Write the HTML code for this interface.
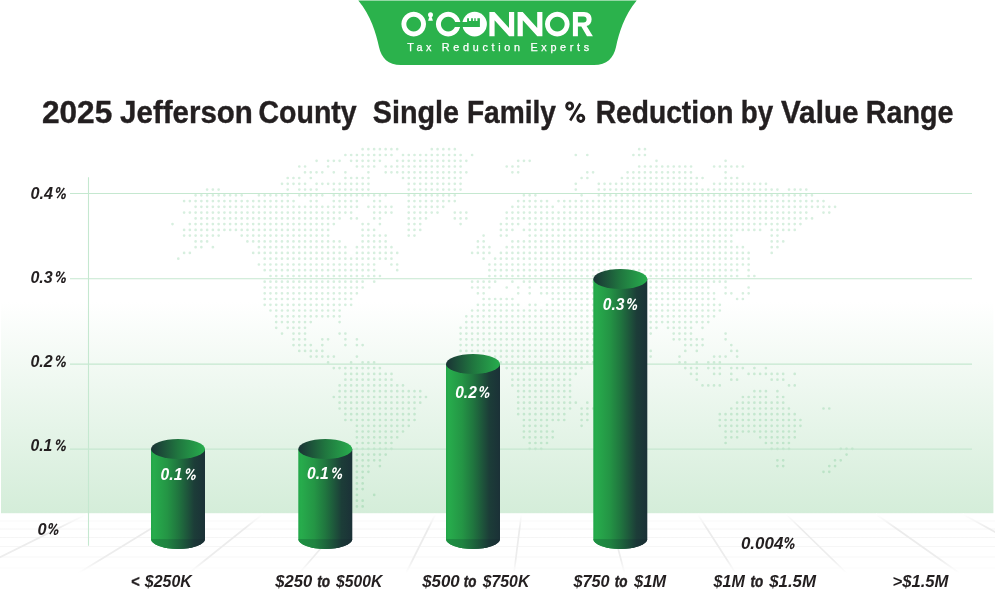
<!DOCTYPE html>
<html><head><meta charset="utf-8">
<style>
html,body{margin:0;padding:0;background:#fff;}
body{width:995px;height:612px;overflow:hidden;font-family:"Liberation Sans",sans-serif;}
svg{display:block;will-change:transform;}
text{font-family:"Liberation Sans",sans-serif;font-weight:bold;}
.ti{font-size:31px;fill:#231f20;stroke:#231f20;stroke-width:0.4px;}
.lab{font-style:italic;font-size:17px;fill:#231f20;}
.val{font-style:italic;font-size:17px;fill:#fff;}
</style></head><body>
<svg width="995" height="612" viewBox="0 0 995 612">
<defs>
<linearGradient id="bg" x1="0" y1="0" x2="0" y2="1">
<stop offset="0" stop-color="#ffffff"/>
<stop offset="1" stop-color="#d4edd9"/>
</linearGradient>
<linearGradient id="body" x1="0" y1="0" x2="1" y2="0">
<stop offset="0" stop-color="#22a649"/>
<stop offset="0.05" stop-color="#27ac4c"/>
<stop offset="0.3" stop-color="#249545"/>
<stop offset="0.5" stop-color="#20763f"/>
<stop offset="0.8" stop-color="#1c3d38"/>
<stop offset="1" stop-color="#1b3137"/>
</linearGradient>
<linearGradient id="base" x1="0" y1="0" x2="1" y2="0">
<stop offset="0" stop-color="#1e9142"/>
<stop offset="0.3" stop-color="#1f8340"/>
<stop offset="0.5" stop-color="#1d673c"/>
<stop offset="0.8" stop-color="#1a3736"/>
<stop offset="1" stop-color="#192d33"/>
</linearGradient>
<linearGradient id="top" x1="0" y1="0" x2="1" y2="0">
<stop offset="0" stop-color="#1a3335"/>
<stop offset="0.5" stop-color="#20763f"/>
<stop offset="1" stop-color="#27ad4d"/>
</linearGradient>
<linearGradient id="fl" gradientUnits="userSpaceOnUse" x1="0" y1="513" x2="0" y2="575">
<stop offset="0.03" stop-color="#ffffff"/>
<stop offset="0.25" stop-color="#ebebeb"/>
<stop offset="0.75" stop-color="#ededed"/>
<stop offset="0.97" stop-color="#ffffff"/>
</linearGradient>
<linearGradient id="fh" gradientUnits="userSpaceOnUse" x1="0" y1="513" x2="0" y2="575">
<stop offset="0" stop-color="#fcfcfc"/>
<stop offset="0.3" stop-color="#f5f5f5"/>
<stop offset="0.8" stop-color="#f7f7f7"/>
<stop offset="1" stop-color="#ffffff"/>
</linearGradient>
</defs>
<rect width="995" height="612" fill="#fff"/>
<rect x="1" y="302" width="992.4" height="211.2" fill="url(#bg)"/>
<path id="map" fill="none" stroke="rgba(55,175,95,0.2)" stroke-width="2.7" stroke-linecap="round" stroke-dasharray="0 5.761" d="M362.6 149.2h34.59M431.8 149.2h23.06M639.2 149.2h5.78M345.4 155.0h46.11M403.0 155.0h57.63M472.1 155.0h0.02M575.8 155.0h0.02M587.3 155.0h0.02M633.4 155.0h11.54M316.6 160.8h0.02M328.1 160.8h11.54M351.1 160.8h28.82M397.2 160.8h69.15M518.2 160.8h11.54M656.5 160.8h0.02M725.6 160.8h0.02M299.3 166.5h5.78M328.1 166.5h0.02M356.9 166.5h17.30M385.7 166.5h74.91M506.7 166.5h11.54M639.2 166.5h51.87M714.1 166.5h28.82M305.0 172.3h17.30M333.8 172.3h0.02M345.4 172.3h0.02M368.4 172.3h0.02M385.7 172.3h80.67M512.4 172.3h5.78M587.3 172.3h5.78M627.6 172.3h63.39M725.6 172.3h0.02M287.7 178.0h11.54M310.8 178.0h0.02M345.4 178.0h23.06M403.0 178.0h57.63M581.6 178.0h5.78M621.9 178.0h80.67M725.6 178.0h11.54M282.0 183.8h23.06M316.6 183.8h51.87M408.7 183.8h51.87M575.8 183.8h0.02M598.8 183.8h97.96M714.1 183.8h51.87M207.1 189.6h11.54M287.7 189.6h0.02M299.3 189.6h17.30M333.8 189.6h34.59M408.7 189.6h51.87M575.8 189.6h0.02M598.8 189.6h178.61M789.0 189.6h17.30M195.6 195.3h46.11M258.9 195.3h28.82M299.3 195.3h23.06M333.8 195.3h51.87M408.7 195.3h46.11M523.9 195.3h11.54M581.6 195.3h0.02M598.8 195.3h213.18M184.1 201.1h109.48M310.8 201.1h5.78M333.8 201.1h23.06M374.2 201.1h5.78M408.7 201.1h46.11M518.2 201.1h28.82M558.5 201.1h265.03M195.6 206.8h161.33M368.4 206.8h23.06M408.7 206.8h34.59M512.4 206.8h40.35M564.3 206.8h270.79M184.1 212.6h167.09M374.2 212.6h17.30M408.7 212.6h28.82M454.8 212.6h11.54M506.7 212.6h299.59M823.5 212.6h5.78M195.6 218.4h144.05M351.1 218.4h5.78M374.2 218.4h5.78M408.7 218.4h17.30M454.8 218.4h11.54M506.7 218.4h305.35M172.5 224.1h0.02M189.8 224.1h144.05M362.6 224.1h5.78M379.9 224.1h0.02M408.7 224.1h11.54M460.6 224.1h0.02M500.9 224.1h17.30M529.7 224.1h270.79M184.1 229.9h144.05M362.6 229.9h11.54M408.7 229.9h11.54M500.9 229.9h11.54M523.9 229.9h236.22M771.7 229.9h23.06M184.1 235.6h34.59M241.7 235.6h86.44M362.6 235.6h23.06M408.7 235.6h5.78M483.6 235.6h0.02M500.9 235.6h5.78M529.7 235.6h201.66M771.7 235.6h5.78M195.6 241.4h11.54M247.4 241.4h92.20M362.6 241.4h23.06M477.9 241.4h5.78M512.4 241.4h218.94M771.7 241.4h11.54M195.6 247.2h5.78M212.9 247.2h0.02M258.9 247.2h86.44M356.9 247.2h34.59M477.9 247.2h11.54M506.7 247.2h236.22M771.7 247.2h5.78M184.1 252.9h5.78M253.2 252.9h92.20M356.9 252.9h40.35M472.1 252.9h17.30M500.9 252.9h247.74M771.7 252.9h0.02M178.3 258.7h0.02M264.7 258.7h126.76M483.6 258.7h0.02M495.1 258.7h253.50M258.9 264.5h115.24M391.4 264.5h5.78M489.4 264.5h259.26M264.7 270.2h109.48M397.2 270.2h0.02M489.4 270.2h247.74M748.6 270.2h0.02M270.5 276.0h109.48M489.4 276.0h247.74M748.6 276.0h5.78M264.7 281.7h97.96M374.2 281.7h0.02M472.1 281.7h23.06M512.4 281.7h0.02M523.9 281.7h201.66M264.7 287.5h97.96M472.1 287.5h17.30M506.7 287.5h0.02M518.2 287.5h0.02M529.7 287.5h0.02M541.2 287.5h167.09M725.6 287.5h0.02M748.6 287.5h0.02M264.7 293.3h92.20M477.9 293.3h5.78M518.2 293.3h0.02M529.7 293.3h0.02M541.2 293.3h172.85M725.6 293.3h5.78M742.9 293.3h5.78M264.7 299.0h86.44M483.6 299.0h28.82M552.8 299.0h161.33M737.1 299.0h5.78M264.7 304.8h86.44M477.9 304.8h40.35M529.7 304.8h5.78M547.0 304.8h172.85M270.5 310.5h69.15M472.1 310.5h247.74M276.2 316.3h63.39M466.3 316.3h247.74M276.2 322.1h34.59M339.6 322.1h0.02M466.3 322.1h241.98M276.2 327.8h0.02M287.7 327.8h17.30M460.6 327.8h195.89M668.0 327.8h23.06M702.5 327.8h0.02M282.0 333.6h0.02M293.5 333.6h11.54M339.6 333.6h5.78M460.6 333.6h190.13M673.7 333.6h17.30M725.6 333.6h0.02M293.5 339.3h11.54M322.3 339.3h5.78M345.4 339.3h0.02M356.9 339.3h0.02M460.6 339.3h184.37M673.7 339.3h28.82M725.6 339.3h0.02M293.5 345.1h17.30M322.3 345.1h0.02M345.4 345.1h0.02M356.9 345.1h5.78M460.6 345.1h184.37M685.3 345.1h17.30M731.3 345.1h0.02M299.3 350.9h23.06M460.6 350.9h190.13M685.3 350.9h0.02M696.8 350.9h0.02M731.3 350.9h5.78M310.8 356.6h23.06M356.9 356.6h0.02M466.3 356.6h184.37M679.5 356.6h0.02M714.1 356.6h11.54M737.1 356.6h0.02M328.1 362.4h0.02M351.1 362.4h0.02M362.6 362.4h11.54M466.3 362.4h178.61M679.5 362.4h5.78M696.8 362.4h0.02M708.3 362.4h11.54M333.8 368.1h46.11M472.1 368.1h23.06M506.7 368.1h74.91M685.3 368.1h11.54M708.3 368.1h11.54M731.3 368.1h11.54M754.4 368.1h0.02M765.9 368.1h0.02M345.4 373.9h46.11M477.9 373.9h17.30M512.4 373.9h63.39M691.0 373.9h5.78M714.1 373.9h5.78M731.3 373.9h0.02M748.6 373.9h34.59M794.7 373.9h0.02M345.4 379.7h46.11M477.9 379.7h17.30M512.4 379.7h57.63M696.8 379.7h0.02M731.3 379.7h5.78M771.7 379.7h11.54M339.6 385.4h63.39M483.6 385.4h11.54M512.4 385.4h57.63M702.5 385.4h17.30M789.0 385.4h5.78M339.6 391.2h80.67M518.2 391.2h51.87M754.4 391.2h11.54M777.4 391.2h0.02M333.8 397.0h92.20M518.2 397.0h51.87M742.9 397.0h23.06M777.4 397.0h5.78M339.6 402.7h80.67M518.2 402.7h57.63M587.3 402.7h0.02M737.1 402.7h46.11M339.6 408.5h74.91M518.2 408.5h51.87M581.6 408.5h11.54M731.3 408.5h57.63M823.5 408.5h5.78M345.4 414.2h69.15M518.2 414.2h46.11M581.6 414.2h5.78M719.8 414.2h74.91M345.4 420.0h69.15M523.9 420.0h40.35M581.6 420.0h5.78M719.8 420.0h80.67M356.9 425.8h51.87M523.9 425.8h23.06M581.6 425.8h0.02M719.8 425.8h80.67M356.9 431.5h46.11M523.9 431.5h28.82M725.6 431.5h69.15M356.9 437.3h40.35M523.9 437.3h28.82M725.6 437.3h11.54M760.2 437.3h34.59M356.9 443.0h34.59M529.7 443.0h17.30M725.6 443.0h0.02M765.9 443.0h23.06M356.9 448.8h34.59M529.7 448.8h11.54M771.7 448.8h17.30M840.8 448.8h11.54M356.9 454.6h28.82M846.6 454.6h0.02M356.9 460.3h23.06M777.4 460.3h5.78M835.0 460.3h5.78M356.9 466.1h11.54M379.9 466.1h0.02M777.4 466.1h5.78M829.3 466.1h5.78M356.9 471.8h11.54M823.5 471.8h5.78M356.9 477.6h5.78M356.9 483.4h5.78M356.9 489.1h5.78M356.9 494.9h0.02M374.2 494.9h0.02M356.9 500.7h5.78M356.9 506.4h5.78"/>
<path d="M0 521H995M0 529H995M0 537.5H995M0 546.5H995M0 557H995M0 568H995" stroke="url(#fh)" stroke-width="1" fill="none"/>
<path d="M-88.7 514L-255.3 574M-0.8 514L-144.5 574M87.0 514L-33.7 574M174.9 514L77.0 574M262.7 514L187.8 574M350.6 514L298.6 574M435.5 514L405.6 574M521.4 514L513.9 574M609.2 514L624.7 574M697.6 514L736.1 574M785.9 514L847.5 574M875.8 514L960.7 574M962.6 514L1070.3 574M1050.5 514L1181.0 574M1138.3 514L1291.8 574" stroke="url(#fl)" stroke-width="1.7" fill="none"/>
<g stroke="#c5e8d0" stroke-width="1.1" fill="none">
<path d="M70 193.5H972M70 278.7H972M70 364.1H972M70 449.1H972M88.5 177.3V545.8"/>
</g>
<g id="bars">
<g><path d="M151 449V539A27 10 0 0 0 205 539V449Z" fill="url(#body)"/><path d="M151 539A27 10 0 0 0 205 539Z" fill="url(#base)"/><ellipse cx="178" cy="449" rx="27" ry="10" fill="url(#top)"/></g>
<g><path d="M298.3 449V539A27 10 0 0 0 352.3 539V449Z" fill="url(#body)"/><path d="M298.3 539A27 10 0 0 0 352.3 539Z" fill="url(#base)"/><ellipse cx="325.3" cy="449" rx="27" ry="10" fill="url(#top)"/></g>
<g><path d="M446 364V539A27 10 0 0 0 500 539V364Z" fill="url(#body)"/><path d="M446 539A27 10 0 0 0 500 539Z" fill="url(#base)"/><ellipse cx="473" cy="364" rx="27" ry="10" fill="url(#top)"/></g>
<g><path d="M593.3 279V539A27 10 0 0 0 647.3 539V279Z" fill="url(#body)"/><path d="M593.3 539A27 10 0 0 0 647.3 539Z" fill="url(#base)"/><ellipse cx="620.3" cy="279" rx="27" ry="10" fill="url(#top)"/></g>
</g>
<text class="ti" x="41.98" y="122.6" textLength="70.31" lengthAdjust="spacingAndGlyphs">2025</text>
<text class="ti" x="120.12" y="122.6" textLength="132.68" lengthAdjust="spacingAndGlyphs">Jefferson</text>
<text class="ti" x="258.55" y="122.6" textLength="98.09" lengthAdjust="spacingAndGlyphs">County</text>
<text class="ti" x="372.77" y="122.6" textLength="86.27" lengthAdjust="spacingAndGlyphs">Single</text>
<text class="ti" x="466.89" y="122.6" textLength="89.11" lengthAdjust="spacingAndGlyphs">Family</text>
<g fill="none" stroke="#231f20"><ellipse cx="569.65" cy="106.05" rx="3" ry="3.2" stroke-width="2.9"/><ellipse cx="580.8" cy="118.3" rx="3" ry="3.2" stroke-width="2.9"/><path d="M580.4 103.5L570.2 120.5" stroke-width="2.6"/></g>
<text class="ti" x="595.68" y="122.6" textLength="137.87" lengthAdjust="spacingAndGlyphs">Reduction</text>
<text class="ti" x="740.71" y="122.6" textLength="32.36" lengthAdjust="spacingAndGlyphs">by</text>
<text class="ti" x="780.96" y="122.6" textLength="77.60" lengthAdjust="spacingAndGlyphs">Value</text>
<text class="ti" x="865.75" y="122.6" textLength="87.78" lengthAdjust="spacingAndGlyphs">Range</text>
<text class="lab" x="30.38" y="199" textLength="22.59" lengthAdjust="spacingAndGlyphs">0.4</text>
<g fill="none" stroke="#231f20" stroke-width="1.45"><ellipse transform="translate(58.20 190.00) skewX(-12)" rx="1.55" ry="2.2"/><ellipse transform="translate(63.50 196.25) skewX(-12)" rx="1.55" ry="2.2"/><path d="M64.30 188.00L57.20 198.20" stroke-width="1.35"/></g>
<text class="lab" x="30.39" y="282.9" textLength="22.34" lengthAdjust="spacingAndGlyphs">0.3</text>
<g fill="none" stroke="#231f20" stroke-width="1.45"><ellipse transform="translate(58.20 273.90) skewX(-12)" rx="1.55" ry="2.2"/><ellipse transform="translate(63.50 280.15) skewX(-12)" rx="1.55" ry="2.2"/><path d="M64.30 271.90L57.20 282.10" stroke-width="1.35"/></g>
<text class="lab" x="30.39" y="367.1" textLength="22.34" lengthAdjust="spacingAndGlyphs">0.2</text>
<g fill="none" stroke="#231f20" stroke-width="1.45"><ellipse transform="translate(58.20 358.10) skewX(-12)" rx="1.55" ry="2.2"/><ellipse transform="translate(63.50 364.35) skewX(-12)" rx="1.55" ry="2.2"/><path d="M64.30 356.10L57.20 366.30" stroke-width="1.35"/></g>
<text class="lab" x="30.40" y="451.1" textLength="21.92" lengthAdjust="spacingAndGlyphs">0.1</text>
<g fill="none" stroke="#231f20" stroke-width="1.45"><ellipse transform="translate(58.20 442.10) skewX(-12)" rx="1.55" ry="2.2"/><ellipse transform="translate(63.50 448.35) skewX(-12)" rx="1.55" ry="2.2"/><path d="M64.30 440.10L57.20 450.30" stroke-width="1.35"/></g>
<text class="lab" x="37.58" y="534.9" textLength="9.13" lengthAdjust="spacingAndGlyphs">0</text>
<g fill="none" stroke="#231f20" stroke-width="1.45"><ellipse transform="translate(50.80 525.90) skewX(-12)" rx="1.55" ry="2.2"/><ellipse transform="translate(56.10 532.15) skewX(-12)" rx="1.55" ry="2.2"/><path d="M56.90 523.90L49.80 534.10" stroke-width="1.35"/></g>
<text class="lab" x="740.95" y="549" textLength="42.44" lengthAdjust="spacingAndGlyphs">0.004</text>
<g fill="none" stroke="#231f20" stroke-width="1.45"><ellipse transform="translate(786.90 540.00) skewX(-12)" rx="1.55" ry="2.2"/><ellipse transform="translate(792.20 546.25) skewX(-12)" rx="1.55" ry="2.2"/><path d="M793.00 538.00L785.90 548.20" stroke-width="1.35"/></g>
<text class="val" x="160.61" y="480.1" textLength="21.73" lengthAdjust="spacingAndGlyphs">0.1</text>
<g fill="none" stroke="#fff" stroke-width="1.45"><ellipse transform="translate(188.10 471.10) skewX(-12)" rx="1.55" ry="2.2"/><ellipse transform="translate(193.40 477.35) skewX(-12)" rx="1.55" ry="2.2"/><path d="M194.20 469.10L187.10 479.30" stroke-width="1.35"/></g>
<text class="val" x="307.11" y="479.1" textLength="21.67" lengthAdjust="spacingAndGlyphs">0.1</text>
<g fill="none" stroke="#fff" stroke-width="1.45"><ellipse transform="translate(334.50 470.10) skewX(-12)" rx="1.55" ry="2.2"/><ellipse transform="translate(339.80 476.35) skewX(-12)" rx="1.55" ry="2.2"/><path d="M340.60 468.10L333.50 478.30" stroke-width="1.35"/></g>
<text class="val" x="455.22" y="397.9" textLength="21.57" lengthAdjust="spacingAndGlyphs">0.2</text>
<g fill="none" stroke="#fff" stroke-width="1.45"><ellipse transform="translate(481.80 388.90) skewX(-12)" rx="1.55" ry="2.2"/><ellipse transform="translate(487.10 395.15) skewX(-12)" rx="1.55" ry="2.2"/><path d="M487.90 386.90L480.80 397.10" stroke-width="1.35"/></g>
<text class="val" x="602.71" y="309.9" textLength="21.70" lengthAdjust="spacingAndGlyphs">0.3</text>
<g fill="none" stroke="#fff" stroke-width="1.45"><ellipse transform="translate(629.50 300.90) skewX(-12)" rx="1.55" ry="2.2"/><ellipse transform="translate(634.80 307.15) skewX(-12)" rx="1.55" ry="2.2"/><path d="M635.60 298.90L628.50 309.10" stroke-width="1.35"/></g>
<text class="lab" x="130.94" y="587.1" textLength="8.53" lengthAdjust="spacingAndGlyphs" stroke="#231f20" stroke-width="0.31">&lt;</text>
<text class="lab" x="144.80" y="587.1" textLength="46.97" lengthAdjust="spacingAndGlyphs">$250K</text>
<text class="lab" x="275.30" y="587.1" textLength="36.98" lengthAdjust="spacingAndGlyphs">$250</text>
<text class="lab" x="317.20" y="587.1" textLength="12.84" lengthAdjust="spacingAndGlyphs" stroke="#231f20" stroke-width="0.44">to</text>
<text class="lab" x="336.10" y="587.1" textLength="46.18" lengthAdjust="spacingAndGlyphs">$500K</text>
<text class="lab" x="422.20" y="587.1" textLength="37.58" lengthAdjust="spacingAndGlyphs">$500</text>
<text class="lab" x="463.71" y="587.1" textLength="12.62" lengthAdjust="spacingAndGlyphs" stroke="#231f20" stroke-width="0.47">to</text>
<text class="lab" x="482.70" y="587.1" textLength="46.67" lengthAdjust="spacingAndGlyphs">$750K</text>
<text class="lab" x="573.40" y="587.1" textLength="36.17" lengthAdjust="spacingAndGlyphs">$750</text>
<text class="lab" x="614.81" y="587.1" textLength="12.73" lengthAdjust="spacingAndGlyphs" stroke="#231f20" stroke-width="0.46">to</text>
<text class="lab" x="633.90" y="587.1" textLength="32.33" lengthAdjust="spacingAndGlyphs">$1M</text>
<text class="lab" x="713.60" y="587.1" textLength="31.14" lengthAdjust="spacingAndGlyphs">$1M</text>
<text class="lab" x="750.41" y="587.1" textLength="12.73" lengthAdjust="spacingAndGlyphs" stroke="#231f20" stroke-width="0.46">to</text>
<text class="lab" x="769.20" y="587.1" textLength="46.85" lengthAdjust="spacingAndGlyphs">$1.5M</text>
<text class="lab" x="892.42" y="587.1" textLength="56.07" lengthAdjust="spacingAndGlyphs">&gt;$1.5M</text>
<g id="logo">
<path d="M358.3 0.5 C371 16 376 33 379 47 C381.5 58 388 65 401 65 H594 C607 65 613.5 58 616 47 C619 33 624 16 636.7 0.5Z" fill="#2bb24c"/>
<g fill="#fff">
<path fill-rule="evenodd" d="M413.7 11.8a12.3 12.3 0 1 0 0.01 0ZM413.7 16.7a7.4 7.4 0 1 1 -0.01 0Z"/>
<circle cx="430.5" cy="14.7" r="2.5"/><path d="M429.6 16H431.4L432.9 20.8H428.1Z"/>
<path fill-rule="evenodd" d="M448.2 11.8a12.3 12.3 0 1 0 0.01 0ZM448.2 16.8a7.3 7.3 0 1 1 -0.01 0Z"/>
<circle cx="474.6" cy="24.1" r="12.3"/>
</g>
<path fill="#2bb24c" d="M450 22.1H467.1V18.2H469V20.9H471.1V18.2H472.9V20.9H474.3V18.2H475.7V20.9H477.4V18.2H479.9V26.9H450Z"/>
<g fill="#fff">
<path d="M489.4 36.3V12H494.5L509 28V12H514.2V36.3H509.1L494.6 20.3V36.3Z"/>
<path d="M517.6 36.3V12H522.7L537.2 28V12H542.4V36.3H537.3L522.8 20.3V36.3Z"/>
<path fill-rule="evenodd" d="M557.3 11.8a12.3 12.3 0 1 0 0.01 0ZM557.3 16.7a7.4 7.4 0 1 1 -0.01 0Z"/>
<path fill-rule="evenodd" d="M572.9 36.3V12H584C589 12 591.6 15 591.6 19.2C591.6 23 589.6 25.2 586.6 26L592.9 36.3H587L581.3 26.6H577.9V36.3ZM577.9 16.4V22.4H583.5C585.5 22.4 586.6 21.2 586.6 19.4C586.6 17.5 585.5 16.4 583.5 16.4Z"/>
</g>
<text x="407.3" y="50.8" style="font-size:10.8px;font-weight:normal" fill="#fff" stroke="#fff" stroke-width="0.25" textLength="181.9" lengthAdjust="spacing" xml:space="preserve">Tax Reduction Experts</text>
</g>
</svg>
</body></html>
